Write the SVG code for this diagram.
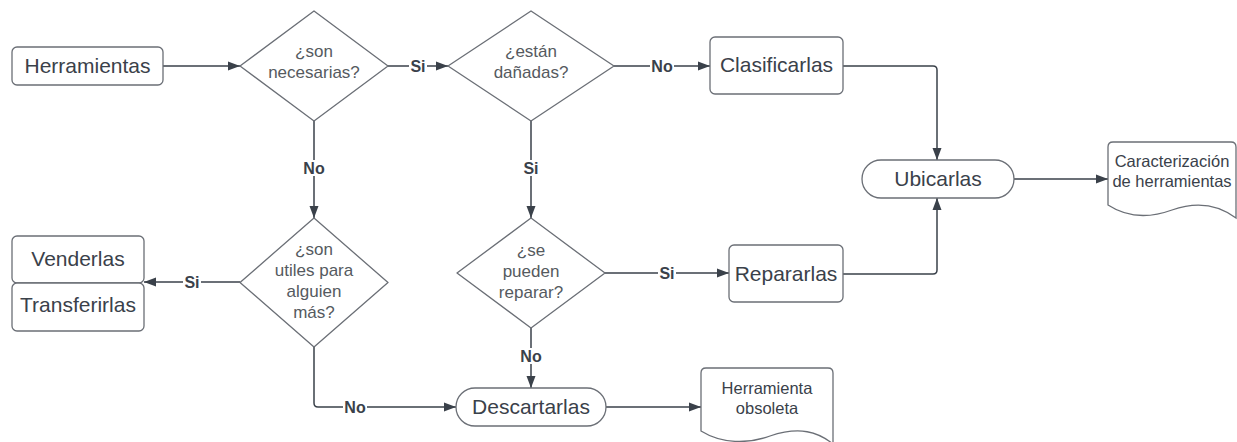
<svg xmlns="http://www.w3.org/2000/svg" width="1237" height="442" viewBox="0 0 1237 442">
<style>
.box{fill:#fff;stroke:#6b6f76;stroke-width:1.3}
.t{font-family:"Liberation Sans",Arial,sans-serif;font-size:21px;fill:#3a414a;text-anchor:middle}
.d{font-family:"Liberation Sans",Arial,sans-serif;font-size:17px;fill:#555a60;text-anchor:middle}
.doc{font-family:"Liberation Sans",Arial,sans-serif;font-size:16.5px;fill:#3a414a;text-anchor:middle}
.ln{fill:none;stroke:#3a414a;stroke-width:1.5}
.lb{font-family:"Liberation Sans",Arial,sans-serif;font-size:16px;font-weight:bold;fill:#3a414a;text-anchor:middle}
.lbg{fill:#fff}
</style>
<defs>
<marker id="ah" markerUnits="userSpaceOnUse" markerWidth="13" markerHeight="10" refX="12" refY="5" orient="auto">
<path d="M0,0.5 L12,5 L0,9.5 z" fill="#3a414a"/>
</marker>
</defs>
<rect width="1237" height="442" fill="#fff"/>

<g id="connectors">
<path class="ln" d="M163,66 H240" marker-end="url(#ah)"/>
<path class="ln" d="M388,66 H448" marker-end="url(#ah)"/>
<path class="ln" d="M614,66 H710" marker-end="url(#ah)"/>
<path class="ln" d="M843,66 H933 Q937,66 937,70 V160" marker-end="url(#ah)"/>
<path class="ln" d="M314,121 V218" marker-end="url(#ah)"/>
<path class="ln" d="M531,121 V218" marker-end="url(#ah)"/>
<path class="ln" d="M240,282 H144" marker-end="url(#ah)"/>
<path class="ln" d="M605,273 H729" marker-end="url(#ah)"/>
<path class="ln" d="M843,274 H933 Q937,274 937,270 V198" marker-end="url(#ah)"/>
<path class="ln" d="M1014,179 H1108" marker-end="url(#ah)"/>
<path class="ln" d="M314,347 V403 Q314,407 318,407 H456" marker-end="url(#ah)"/>
<path class="ln" d="M531,328 V388" marker-end="url(#ah)"/>
<path class="ln" d="M606,407 H701" marker-end="url(#ah)"/>
<g id="labels">
<rect class="lbg" x="409" y="58" width="18" height="16"/><text class="lb" x="418" y="72">Si</text>
<rect class="lbg" x="650" y="58" width="24" height="16"/><text class="lb" x="662" y="72">No</text>
<rect class="lbg" x="302" y="160" width="24" height="16"/><text class="lb" x="314" y="174">No</text>
<rect class="lbg" x="522" y="160" width="18" height="16"/><text class="lb" x="531" y="174">Si</text>
<rect class="lbg" x="183" y="274" width="18" height="16"/><text class="lb" x="192" y="288">Si</text>
<rect class="lbg" x="658" y="265" width="18" height="16"/><text class="lb" x="667" y="279">Si</text>
<rect class="lbg" x="519" y="348" width="24" height="16"/><text class="lb" x="531" y="362">No</text>
<rect class="lbg" x="343" y="399" width="24" height="16"/><text class="lb" x="355" y="413">No</text>
</g>
</g>

<g id="n-herramientas">
<rect class="box" x="12" y="47" width="151" height="38" rx="5"/>
<text class="t" x="87.5" y="73">Herramientas</text>
</g>

<g id="n-necesarias">
<path class="box" d="M314,11 L388,66 L314,121 L240,66 Z" stroke-linejoin="round"/>
<text class="d" x="314" y="57">¿son</text>
<text class="d" x="314" y="78">necesarias?</text>
</g>

<g id="n-danadas">
<path class="box" d="M531,11 L614,66 L531,121 L448,66 Z" stroke-linejoin="round"/>
<text class="d" x="531" y="57">¿están</text>
<text class="d" x="531" y="78">dañadas?</text>
</g>

<g id="n-clasificarlas">
<rect class="box" x="710" y="37" width="133" height="57" rx="5"/>
<text class="t" x="776.5" y="72">Clasificarlas</text>
</g>

<g id="n-ubicarlas">
<rect class="box" x="862" y="160" width="152" height="38" rx="19"/>
<text class="t" x="938" y="186">Ubicarlas</text>
</g>

<g id="n-caracterizacion">
<path class="box" d="M1108,147 Q1108,142 1113,142 H1231 Q1236,142 1236,147 V218 C1220,206 1200,200 1172,210 C1150,218 1128,218 1108,205 Z"/>
<text class="doc" x="1172" y="167">Caracterización</text>
<text class="doc" x="1172" y="187">de herramientas</text>
</g>

<g id="n-utiles">
<path class="box" d="M314,218 L388,282.5 L314,347 L240,282.5 Z" stroke-linejoin="round"/>
<text class="d" x="314" y="255">¿son</text>
<text class="d" x="314" y="276">utiles para</text>
<text class="d" x="314" y="297">alguien</text>
<text class="d" x="314" y="318">más?</text>
</g>

<g id="n-venderlas">
<rect class="box" x="12" y="236" width="132" height="47" rx="5"/>
<text class="t" x="78" y="266">Venderlas</text>
</g>

<g id="n-transferirlas">
<rect class="box" x="12" y="283" width="132" height="48" rx="5"/>
<text class="t" x="78" y="312">Transferirlas</text>
</g>

<g id="n-reparar">
<path class="box" d="M531,218 L605,273 L531,328 L457,273 Z" stroke-linejoin="round"/>
<text class="d" x="531" y="256">¿se</text>
<text class="d" x="531" y="277">pueden</text>
<text class="d" x="531" y="298">reparar?</text>
</g>

<g id="n-repararlas">
<rect class="box" x="729" y="245" width="114" height="57" rx="5"/>
<text class="t" x="786" y="281">Repararlas</text>
</g>

<g id="n-descartarlas">
<rect class="box" x="456" y="388" width="150" height="38" rx="19"/>
<text class="t" x="531" y="414">Descartarlas</text>
</g>

<g id="n-obsoleta">
<path class="box" d="M701,373 Q701,368 706,368 H828 Q833,368 833,373 V444 C818,432 800,426 770,436 C748,444 722,444 701,431 Z"/>
<text class="doc" x="767" y="394">Herramienta</text>
<text class="doc" x="767" y="414">obsoleta</text>
</g>
</svg>
